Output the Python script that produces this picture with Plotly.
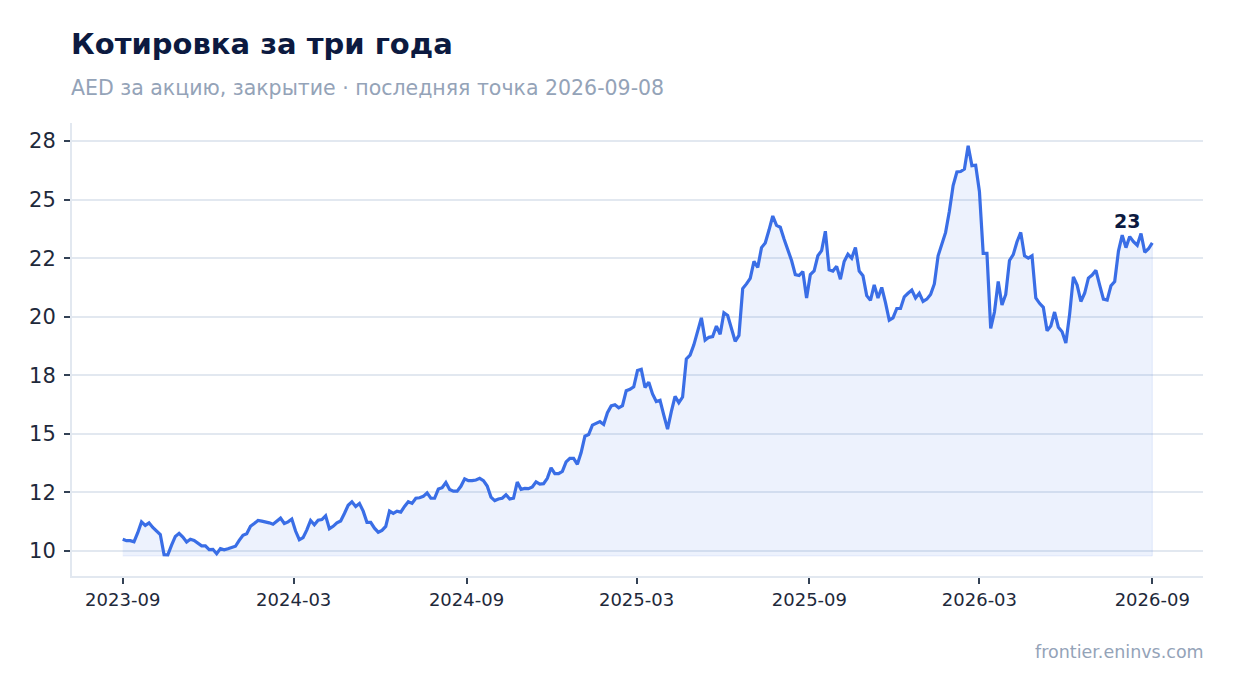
#!/usr/bin/env python3
"""Three-year share price chart (close, AED per share)."""

import pandas as pd
import plotly.graph_objects as go

# closing prices, one reading every 4 days from 2023-09-08 to 2026-09-08
START_DATE = "2023-09-08"
END_DATE = "2026-09-08"
prices = [
    10.50, 10.44, 10.44, 10.39, 10.78, 11.24, 11.09, 11.20, 11.00, 10.87,
    10.70, 9.84, 9.83, 10.25, 10.62, 10.75, 10.59, 10.38, 10.50, 10.45,
    10.32, 10.22, 10.22, 10.06, 10.07, 9.88, 10.10, 10.05, 10.09, 10.14,
    10.20, 10.45, 10.67, 10.73, 11.05, 11.17, 11.30, 11.27, 11.25, 11.20,
    11.14, 11.25, 11.40, 11.17, 11.24, 11.36, 10.85, 10.48, 10.57, 10.90,
    11.30, 11.12, 11.31, 11.34, 11.50, 10.95, 11.05, 11.20, 11.28, 11.60,
    11.95, 12.10, 11.90, 12.03, 11.70, 11.22, 11.22, 10.97, 10.80, 10.88,
    11.05, 11.70, 11.60, 11.70, 11.66, 11.90, 12.10, 12.03, 12.25, 12.27,
    12.33, 12.48, 12.25, 12.25, 12.64, 12.70, 12.92, 12.62, 12.55, 12.55,
    12.76, 13.08, 13.00, 13.00, 13.03, 13.10, 13.00, 12.77, 12.30, 12.15,
    12.22, 12.25, 12.40, 12.22, 12.25, 12.94, 12.63, 12.67, 12.66, 12.73,
    12.95, 12.85, 12.87, 13.10, 13.55, 13.30, 13.30, 13.40, 13.80, 13.95,
    13.95, 13.70, 14.20, 14.90, 14.97, 15.37, 15.45, 15.52, 15.40, 15.90,
    16.19, 16.24, 16.11, 16.20, 16.84, 16.90, 17.01, 17.70, 17.75, 16.98,
    17.20, 16.70, 16.38, 16.43, 15.80, 15.20, 15.95, 16.60, 16.33, 16.57,
    18.20, 18.36, 18.80, 19.40, 19.95, 19.00, 19.12, 19.15, 19.60, 19.25,
    20.17, 20.05, 19.50, 18.95, 19.20, 21.20, 21.40, 21.64, 22.36, 22.10,
    22.95, 23.15, 23.70, 24.30, 23.90, 23.82, 23.32, 22.84, 22.40, 21.80,
    21.76, 21.93, 20.80, 21.80, 21.95, 22.60, 22.82, 23.65, 22.00, 21.95,
    22.15, 21.60, 22.36, 22.67, 22.50, 22.95, 21.95, 21.75, 20.90, 20.70,
    21.36, 20.80, 21.25, 20.60, 19.85, 19.95, 20.35, 20.35, 20.85, 21.00,
    21.14, 20.80, 21.00, 20.65, 20.75, 20.95, 21.40, 22.60, 23.15, 23.60,
    24.50, 25.60, 26.18, 26.20, 26.30, 27.30, 26.45, 26.47, 25.35, 22.70,
    22.70, 19.50, 20.20, 21.50, 20.50, 20.95, 22.40, 22.65, 23.20, 23.60,
    22.60, 22.50, 22.60, 20.80, 20.57, 20.40, 19.40, 19.60, 20.20, 19.55,
    19.36, 18.88, 20.10, 21.70, 21.35, 20.65, 21.00, 21.65, 21.78, 21.98,
    21.35, 20.75, 20.71, 21.32, 21.50, 22.80, 23.48, 22.95, 23.42, 23.20,
    23.05, 23.55, 22.75, 22.90, 23.15,
]

x_tick_dates = ["2023-09-08", "2024-03-08", "2024-09-08", "2025-03-08",
                "2025-09-08", "2026-03-08", "2026-09-08"]
y_tick_values = [10, 12.5, 15, 17.5, 20, 22.5, 25, 27.5]
y_tick_labels = [f"{v:.0f}" for v in y_tick_values]

TITLE = "Котировка за три года"
SUBTITLE = "AED за акцию, закрытие · последняя точка 2026-09-08"
SOURCE = "frontier.eninvs.com"

LINE_COLOR = "#3a6ee6"
FILL_COLOR = "rgba(58,110,230,0.09)"
NAVY = "#0c1a40"
MUTED = "#94a3b8"
GRID = "#e2e8f0"
FONT = "DejaVu Sans"


def main() -> None:
    dates = pd.date_range(START_DATE, END_DATE, freq="4D")
    base = min(prices) - 0.04

    fig = go.Figure()
    # shaded area between the price line and the lowest close
    fig.add_trace(
        go.Scatter(
            x=list(dates) + list(dates[::-1]),
            y=prices + [base] * len(prices),
            fill="toself",
            fillcolor=FILL_COLOR,
            line={"color": "rgba(58,110,230,0.12)", "width": 1},
            mode="lines",
            hoverinfo="skip",
            showlegend=False,
        )
    )
    fig.add_trace(
        go.Scatter(
            x=dates,
            y=prices,
            mode="lines",
            line={"color": LINE_COLOR, "width": 3.2},
            showlegend=False,
        )
    )

    fig.add_annotation(
        x=dates[-1], y=prices[-1], text=f"<b>{prices[-1]:.0f}</b>",
        showarrow=False, xanchor="center", yanchor="middle",
        xshift=-25, yshift=22, font={"size": 19, "color": NAVY, "family": FONT},
    )
    fig.add_annotation(
        x=0, y=1.174, xref="paper", yref="paper", text=f"<b>{TITLE}</b>",
        showarrow=False, xanchor="left", yanchor="middle", xshift=-3,
        font={"size": 29, "color": NAVY, "family": FONT},
    )
    fig.add_annotation(
        x=0, y=1.077, xref="paper", yref="paper", text=SUBTITLE,
        showarrow=False, xanchor="left", yanchor="middle", xshift=-3,
        font={"size": 20.5, "color": MUTED, "family": FONT},
    )
    fig.add_annotation(
        x=1, y=-0.168, xref="paper", yref="paper", text=SOURCE,
        showarrow=False, xanchor="right", yanchor="middle", xshift=3,
        font={"size": 17.5, "color": MUTED, "family": FONT},
    )

    fig.update_layout(
        width=1234,
        height=693,
        plot_bgcolor="white",
        paper_bgcolor="white",
        margin={"l": 64, "r": 39, "t": 115, "b": 125},
        font={"family": FONT, "color": "#1e293b"},
        hovermode="x",
    )
    fig.update_xaxes(
        range=["2023-07-16", "2026-11-01"],
        tickvals=x_tick_dates,
        tickformat="%Y-%m",
        tickfont={"size": 18, "color": "#1e293b"},
        showgrid=False,
        showline=True, linecolor=GRID, linewidth=2,
        ticks="outside", ticklen=6, tickwidth=2, tickcolor="#334155",
        zeroline=False,
    )
    fig.update_yaxes(
        range=[8.93, 28.27],
        tickvals=y_tick_values,
        ticktext=y_tick_labels,
        tickfont={"size": 21, "color": "#1e293b"},
        showgrid=True, gridcolor=GRID, gridwidth=2,
        showline=True, linecolor=GRID, linewidth=2,
        ticks="outside", ticklen=6, tickwidth=2, tickcolor="#334155",
        ticklabelstandoff=4,
        zeroline=False,
    )
    fig.write_html("out.html")


if __name__ == "__main__":
    main()
